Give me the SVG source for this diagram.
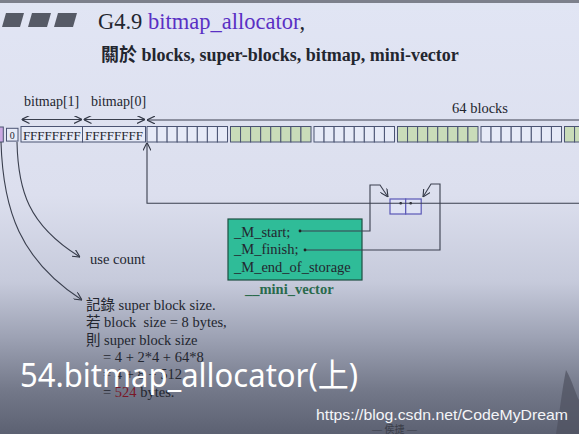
<svg xmlns="http://www.w3.org/2000/svg" xmlns:xlink="http://www.w3.org/1999/xlink" width="579" height="434" viewBox="0 0 579 434">
<style>
.serif{font-family:"Liberation Serif","Noto Sans CJK TC",serif;fill:#23262f}
.ln{fill:none;stroke:#3a3f4e;stroke-width:1.1}
.cell{stroke:#4b5473;stroke-width:1}
.wh{fill:#e6eaf7}
.gr{fill:#c9dcb9}
</style>
<defs>
<linearGradient id="bg" x1="0" y1="0" x2="0" y2="1">
<stop offset="0" stop-color="#e1e5f4"/>
<stop offset="0.45" stop-color="#dcdfee"/>
<stop offset="0.65" stop-color="#c6cadb"/>
<stop offset="0.78" stop-color="#9ca1b3"/>
<stop offset="0.9" stop-color="#737889"/>
<stop offset="1" stop-color="#5c6172"/>
</linearGradient>
<marker id="chev" viewBox="0 0 10 10" refX="10" refY="5" markerWidth="8" markerHeight="8" orient="auto-start-reverse" markerUnits="userSpaceOnUse">
<path d="M0,0 L10,5 L0,10" fill="none" stroke="#333846" stroke-width="1.4"/>
</marker>
<g id="cells" class="cell">
<rect x="0" y="0" width="10.06" height="15.5"/>
<rect x="10.06" y="0" width="10.06" height="15.5"/>
<rect x="20.12" y="0" width="10.06" height="15.5"/>
<rect x="30.19" y="0" width="10.06" height="15.5"/>
<rect x="40.25" y="0" width="10.06" height="15.5"/>
<rect x="50.31" y="0" width="10.06" height="15.5"/>
<rect x="60.37" y="0" width="10.06" height="15.5"/>
<rect x="70.44" y="0" width="10.06" height="15.5"/>
</g>
</defs>

<rect x="0" y="0" width="579" height="434" fill="url(#bg)"/>
<rect x="0" y="0" width="579" height="3" fill="#7d808c"/>
<path d="M566,370 C572,380 576,395 579,400 L579,434 L556,434 C560,410 562,390 566,370 Z" fill="#4f5160" opacity="0.7"/>

<!-- title -->
<g id="title">
<polygon points="6,13 24,13 20,27 2,27" fill="#565a66"/>
<polygon points="32,13 51,13 47,27 28,27" fill="#565a66"/>
<polygon points="58,13 77,13 73,27 54,27" fill="#565a66"/>
<text class="serif" x="98" y="29" font-size="22.5">G4.9 <tspan fill="#5a30c4">bitmap_allocator</tspan>,</text>
<text class="serif" x="101" y="61" font-size="18" font-weight="bold">關於 blocks, super-blocks, bitmap, mini-vector</text>
</g>

<!-- block row -->
<g id="superblock">
<rect x="-1" y="127" width="4.3" height="15" fill="#caa8e2" stroke="#4b5473"/>
<rect x="6.5" y="128.3" width="11.5" height="12.8" fill="#e6eaf7" stroke="#4b5473"/>
<text class="serif" x="12.2" y="138.5" font-size="10" text-anchor="middle">0</text>
<rect x="21" y="126.5" width="61.5" height="15.5" fill="#e6eaf7" stroke="#4b5473"/>
<rect x="82.5" y="126.5" width="63" height="15.5" fill="#e6eaf7" stroke="#4b5473"/>
<text class="serif" x="51.8" y="139.5" font-size="13" text-anchor="middle">FFFFFFFF</text>
<text class="serif" x="114" y="139.5" font-size="13" text-anchor="middle">FFFFFFFF</text>
<use xlink:href="#cells" x="147" y="126.5" class="wh"/>
<use xlink:href="#cells" x="230.5" y="126.5" class="gr"/>
<use xlink:href="#cells" x="314" y="126.5" class="wh"/>
<use xlink:href="#cells" x="397.5" y="126.5" class="gr"/>
<use xlink:href="#cells" x="481" y="126.5" class="wh"/>
<use xlink:href="#cells" x="564.5" y="126.5" class="gr"/>
</g>

<g id="labels">
<text class="serif" x="24" y="106" font-size="14">bitmap[1]</text>
<text class="serif" x="91" y="106" font-size="14">bitmap[0]</text>
<text class="serif" x="452" y="113" font-size="14.5">64 blocks</text>
<text class="serif" x="90" y="264" font-size="14.5">use count</text>
</g>

<!-- mini vector -->
<g id="mini_vector">
<rect x="228" y="219" width="134" height="61" fill="#2fbc98" stroke="#1d4f42" stroke-width="1.2"/>
<text class="serif" x="234" y="237" font-size="14.5">_M_start;</text>
<text class="serif" x="234" y="254" font-size="14.5">_M_finish;</text>
<text class="serif" x="234" y="272" font-size="14.5">_M_end_of_storage</text>
<text class="serif" x="245" y="294" font-size="14.5" font-weight="bold" style="fill:#2a6a4c">__mini_vector</text>
</g>

<g id="pair">
<rect x="390" y="199" width="15.7" height="15" fill="#dfe3f4" stroke="#5a58b6" stroke-width="1.2"/>
<rect x="405.7" y="199" width="15.5" height="15" fill="#dfe3f4" stroke="#5a58b6" stroke-width="1.2"/>
<circle cx="400.7" cy="203.3" r="1.3" fill="#222"/>
<circle cx="410.7" cy="203.3" r="1.3" fill="#222"/>
</g>

<!-- notes -->
<g id="notes" class="serif" font-size="14.5">
<text x="86" y="310">記錄 super block size.</text>
<text x="86" y="327">若 block&#160; size = 8 bytes,</text>
<text x="86" y="345">則 super block size</text>
<text x="103" y="362">= 4 + 2*4 + 64*8</text>
<text x="103" y="379">= 4 + 8 + 512</text>
<text x="103" y="397">= <tspan fill="#7a1828">524</tspan> bytes.</text>
</g>

<!-- connectors -->
<g id="connectors">
<line class="ln" x1="21.5" y1="119.5" x2="82" y2="119.5" marker-start="url(#chev)" marker-end="url(#chev)"/>
<line class="ln" x1="83.5" y1="119.5" x2="145" y2="119.5" marker-start="url(#chev)" marker-end="url(#chev)"/>
<line class="ln" x1="147" y1="120" x2="585" y2="120" marker-start="url(#chev)"/>
<polyline class="ln" points="579,203.3 147,203.3 147,142.5" marker-end="url(#chev)"/>
<polyline class="ln" points="300,231 370,231 370,185 380,185 388,197" marker-end="url(#chev)"/>
<circle cx="300" cy="231" r="1.4" fill="#222"/>
<polyline class="ln" points="305,250 440,250 440,184 431,184 423,197" marker-end="url(#chev)"/>
<circle cx="305" cy="250" r="1.4" fill="#222"/>
<path class="ln" d="M17,142 C18,190 28,225 80,257" marker-end="url(#chev)"/>
<path class="ln" d="M1,142 C3,210 20,260 82,300" marker-end="url(#chev)"/>
</g>

<!-- overlays -->
<g id="overlay">
<text x="20" y="387" font-size="33" textLength="338" lengthAdjust="spacingAndGlyphs" style="font-family:'Noto Sans','Noto Sans CJK SC',sans-serif;fill:#ffffff">54.bitmap_allocator(上)</text>
<text x="316" y="420" font-size="15" textLength="252" lengthAdjust="spacingAndGlyphs" style="font-family:'Liberation Sans',sans-serif;fill:#f4f5f8">https://blog.csdn.net/CodeMyDream</text>
<text x="372" y="433" font-size="10" style="font-family:'Liberation Serif','Noto Sans CJK TC',serif;fill:#3a3d48">— 侯捷 —</text>
</g>
</svg>
